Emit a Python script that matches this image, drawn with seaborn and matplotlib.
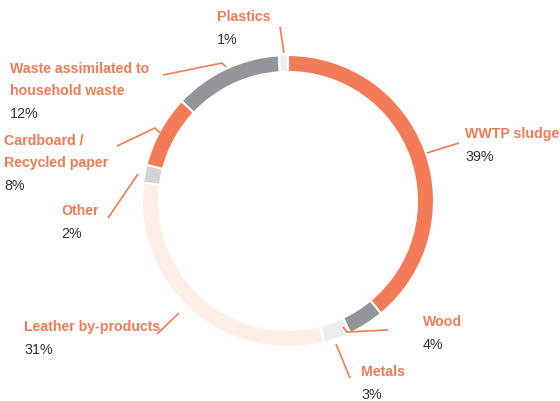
import matplotlib.pyplot as plt
import seaborn as sns

# Share of waste by type (%)
categories = ['WWTP sludge', 'Wood', 'Metals', 'Leather by-products', 'Other',
              'Cardboard /\nRecycled paper', 'Waste assimilated to\nhousehold waste', 'Plastics']
shares = [39, 4, 3, 31, 2, 8, 12, 1]
colors = ['#f47b57', '#939598', '#ececec', '#fdeee6', '#d4d4d4', '#f47b57', '#939598', '#ececec']

ORANGE = '#f47b57'

# label anchors (pixel coords from top-left) and leader polylines
label_pos = {
    'WWTP sludge': (465, 134),
    'Wood': (423, 322),
    'Metals': (361, 372),
    'Leather by-products': (24, 327),
    'Other': (61, 211),
    'Cardboard /\nRecycled paper': (4, 141),
    'Waste assimilated to\nhousehold waste': (10, 69),
    'Plastics': (217, 17),
}
leaders = {
    'WWTP sludge': [(427, 153), (459, 143)],
    'Wood': [(343, 327), (347, 332), (388, 330)],
    'Metals': [(336, 344), (350, 378)],
    'Leather by-products': [(179, 313), (157, 334)],
    'Other': [(138, 174), (108, 218)],
    'Cardboard /\nRecycled paper': [(160, 133), (155, 128), (117, 146)],
    'Waste assimilated to\nhousehold waste': [(226, 67), (222, 63), (163, 75)],
    'Plastics': [(284, 53), (280, 27)],
}

sns.set_style('white')
plt.rcParams['font.family'] = ['Liberation Sans', 'DejaVu Sans']

W, H = 560, 401
fig = plt.figure(figsize=(5.6, 4.01), dpi=100)
ax = fig.add_axes([0, 0, 1, 1])

R = 146
# y axis is inverted, so counterclock=True renders clockwise on screen; start at top
ax.pie(shares, colors=colors, startangle=-90, counterclock=True,
       center=(288, 201), radius=R, frame=True,
       wedgeprops=dict(width=17, edgecolor='white', linewidth=1.5))
ax.set_xlim(0, W)
ax.set_ylim(H, 0)
ax.set_aspect('equal')
ax.axis('off')

for cat, val in zip(categories, shares):
    x, y = label_pos[cat]
    lines = cat.split('\n')
    for i, line in enumerate(lines):
        ax.text(x, y + 22 * i, line, color=ORANGE, fontsize=10.2, fontweight='bold',
                ha='left', va='center')
    ax.text(x, y + 22 * len(lines) + 1, f'{val}%', color='#333333', fontsize=10.3,
            ha='left', va='center')
    pts = leaders[cat]
    ax.plot([p[0] for p in pts], [p[1] for p in pts], color=ORANGE, lw=1.2,
            solid_capstyle='butt')

fig.savefig('out.png', dpi=100)
